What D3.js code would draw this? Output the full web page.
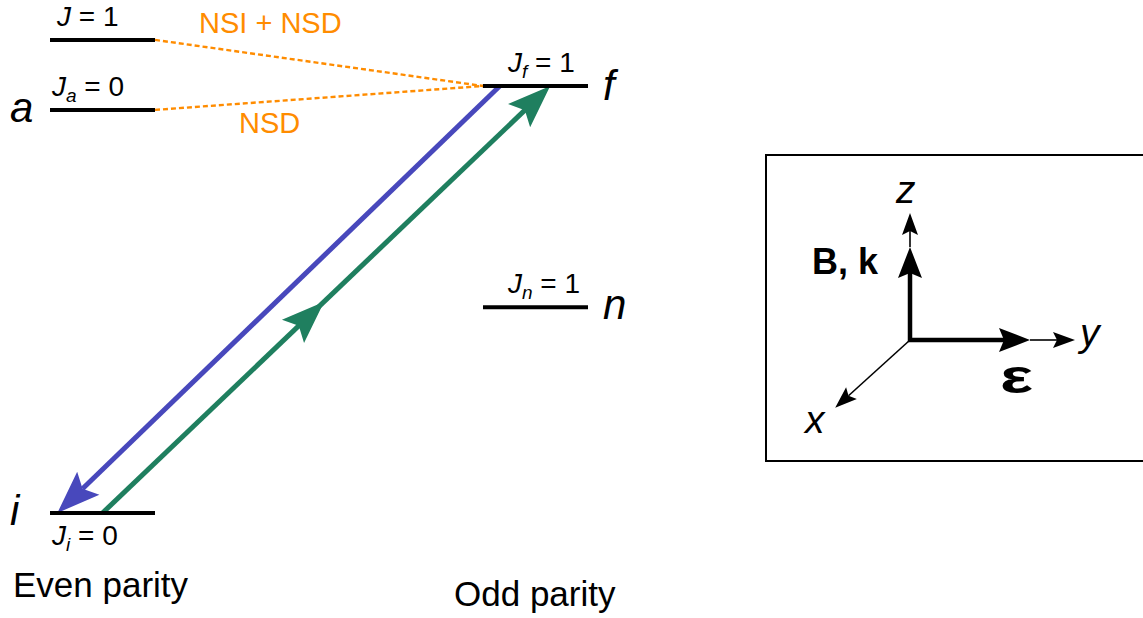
<!DOCTYPE html>
<html>
<head>
<meta charset="utf-8">
<script src="https://cdn.jsdelivr.net/npm/d3@7"></script>
<style>
  html, body { margin: 0; padding: 0; background: #fff; }
  svg { display: block; font-family: "Liberation Sans", Arial, sans-serif; }
</style>
</head>
<body>
<svg id="chart" width="1143" height="618"></svg>
<script>
// ---- Level scheme data ----
const levelIds      = ["J1", "a", "f", "n", "i"];
const levelParity   = ["even", "even", "odd", "odd", "even"];
const levelEnergy   = [11.08, 9.44, 10.0, 4.82, 0.0];   // arbitrary energy units
const levelSymbol   = ["", "a", "f", "n", "i"];
const levelSub      = ["", "a", "f", "n", "i"];
const levelJ        = ["1", "0", "1", "1", "0"];

const parityColumns = ["even", "odd"];
const parityLabels  = ["Even parity", "Odd parity"];

// laser transitions (excitation i -> f, stimulated emission f -> i)
const transFrom     = ["f", "i"];
const transTo       = ["i", "f"];
const transName     = ["emission", "excitation"];

// parity-violating admixtures into f
const mixFrom       = ["J1", "a"];
const mixTo         = ["f", "f"];
const mixLabels     = ["NSI + NSD", "NSD"];

// field geometry in the inset
const axisNames     = ["x", "y", "z"];
const fieldLabels   = ["B, k", "ε"];
const fieldAxis     = ["z", "y"];

// ---- layout ----
const svg = d3.select("#chart");
const x = d3.scaleBand().domain(parityColumns).range([50, 588]).paddingInner(0.7575).paddingOuter(0);
const y = d3.scaleLinear().domain([0, 10]).range([513, 86]);

const lvl = {};
levelIds.forEach((id, k) => {
  lvl[id] = { id, parity: levelParity[k], E: levelEnergy[k], sym: levelSymbol[k], sub: levelSub[k], J: levelJ[k] };
});
const x0 = d => x(d.parity);
const x1 = d => x(d.parity) + x.bandwidth();
const yy = d => y(d.E);

const orange = "#ff8c00";
const blue = "#4848bc";
const green = "#1f7f5f";

// stealth arrowhead polygon
function head(tip, dir, len, hw, notch) {
  const px = -dir[1], py = dir[0];
  const bx = tip[0] - dir[0] * len, by = tip[1] - dir[1] * len;
  const nx = tip[0] - dir[0] * (len - notch), ny = tip[1] - dir[1] * (len - notch);
  return [[tip[0], tip[1]], [bx + px * hw, by + py * hw], [nx, ny], [bx - px * hw, by - py * hw]];
}
function unit(a, b) {
  const dx = b[0] - a[0], dy = b[1] - a[1], L = Math.hypot(dx, dy);
  return [dx / L, dy / L];
}

// ---- coupling (dashed orange) ----
const gMix = svg.append("g");
mixFrom.forEach((fromId, k) => {
  const a = lvl[fromId], b = lvl[mixTo[k]];
  gMix.append("line")
    .attr("x1", x1(a)).attr("y1", yy(a))
    .attr("x2", x0(b)).attr("y2", yy(b))
    .attr("stroke", orange).attr("stroke-width", 2.4)
    .attr("stroke-dasharray", "5,3");
});
gMix.append("text").attr("x", 199).attr("y", 33)
  .attr("fill", orange).attr("font-size", 29).text(mixLabels[0]);
gMix.append("text").attr("x", 239).attr("y", 133)
  .attr("fill", orange).attr("font-size", 29).text(mixLabels[1]);

// ---- transitions ----
const attach = { emission: [0.16, 0.07], excitation: [0.5, 0.64] };
const colors = { emission: blue, excitation: green };
const gTr = svg.append("g");
transFrom.forEach((fromId, k) => {
  const a = lvl[fromId], b = lvl[transTo[k]], nm = transName[k];
  const p0 = [x0(a) + attach[nm][0] * x.bandwidth(), yy(a)];
  const p1 = [x0(b) + attach[nm][1] * x.bandwidth(), yy(b)];
  const d = unit(p0, p1);
  const L = 43, hw = 16, notch = 8;
  const endBase = [p1[0] - d[0] * (L - notch), p1[1] - d[1] * (L - notch)];
  gTr.append("line")
    .attr("x1", p0[0]).attr("y1", p0[1])
    .attr("x2", endBase[0]).attr("y2", endBase[1])
    .attr("stroke", colors[nm]).attr("stroke-width", 5);
  gTr.append("polygon").attr("points", head(p1, d, L, hw, notch).join(" "))
    .attr("fill", colors[nm]);
  if (nm === "excitation") {
    const t = 0.495;
    const mid = [p0[0] + (p1[0] - p0[0]) * t, p0[1] + (p1[1] - p0[1]) * t];
    gTr.append("polygon").attr("points", head(mid, d, L, hw, notch).join(" "))
      .attr("fill", colors[nm]);
  }
});

// ---- levels ----
const gLv = svg.append("g");
gLv.selectAll("line").data(Object.values(lvl)).join("line")
  .attr("x1", x0).attr("x2", x1).attr("y1", yy).attr("y2", yy)
  .attr("stroke", "#000").attr("stroke-width", 4);

// J labels and level symbols
Object.values(lvl).forEach(d => {
  const below = d.id === "i";
  const tx = x0(d) + (d.parity === "odd" ? 25 : (d.sub ? 2 : 7));
  const ty = below ? yy(d) + 32 : yy(d) - 14;
  const t = gLv.append("text").attr("x", tx).attr("y", ty).attr("font-size", 28);
  t.append("tspan").attr("font-style", "italic").text("J");
  if (d.sub) {
    t.append("tspan").attr("font-style", "italic").attr("font-size", 19)
      .attr("dy", 6).text(d.sub);
    t.append("tspan").attr("dy", -6).text(" = " + d.J);
  } else {
    t.append("tspan").text(" = " + d.J);
  }
  if (d.sym) {
    const sx = d.parity === "odd" ? x1(d) + 15 : 10;
    const sy = yy(d) + (d.id === "f" ? 14 : 12);
    gLv.append("text").attr("x", sx).attr("y", sy)
      .attr("font-size", 42).attr("font-style", "italic").text(d.sym);
  }
});

// parity column captions
const capY = { even: 597, odd: 606 };
const capX = { even: 13, odd: 454 };
parityColumns.forEach((c, k) => {
  svg.append("text").attr("x", capX[c]).attr("y", capY[c])
    .attr("font-size", 35).text(parityLabels[k]);
});

// ---- inset: field geometry ----
const gIn = svg.append("g");
gIn.append("rect").attr("x", 766).attr("y", 155).attr("width", 420).attr("height", 306)
  .attr("fill", "none").attr("stroke", "#000").attr("stroke-width", 2);

const O = [910, 340];
const axisDir = { x: unit([0, 0], [-75, 68]), y: [1, 0], z: [0, -1] };
const axisLen = { x: 101, y: 165, z: 127 };
const fieldLen = { z: 93, y: 120 };

// thick field arrows
fieldAxis.forEach(ax => {
  const d = axisDir[ax];
  const tip = [O[0] + d[0] * fieldLen[ax], O[1] + d[1] * fieldLen[ax]];
  const L = 31, hw = 12, notch = 5;
  gIn.append("line").attr("x1", O[0] - (ax === "y" ? 2 : 0)).attr("y1", O[1] + (ax === "z" ? 2 : 0))
    .attr("x2", tip[0] - d[0] * (L - notch)).attr("y2", tip[1] - d[1] * (L - notch))
    .attr("stroke", "#000").attr("stroke-width", 4.5);
  gIn.append("polygon").attr("points", head(tip, d, L, hw, notch).join(" ")).attr("fill", "#000");
});

// thin coordinate axes
axisNames.forEach(ax => {
  const d = axisDir[ax];
  const start = fieldLen[ax] ? [O[0] + d[0] * fieldLen[ax], O[1] + d[1] * fieldLen[ax]] : O;
  const tip = [O[0] + d[0] * axisLen[ax], O[1] + d[1] * axisLen[ax]];
  const L = 22, hw = 8, notch = 4;
  gIn.append("line").attr("x1", start[0]).attr("y1", start[1])
    .attr("x2", tip[0] - d[0] * (L - notch)).attr("y2", tip[1] - d[1] * (L - notch))
    .attr("stroke", "#000").attr("stroke-width", 1.6);
  gIn.append("polygon").attr("points", head(tip, d, L, hw, notch).join(" ")).attr("fill", "#000");
});

const axisLabelPos = { x: [805, 433], y: [1080, 346], z: [896, 203] };
axisNames.forEach(ax => {
  gIn.append("text").attr("x", axisLabelPos[ax][0]).attr("y", axisLabelPos[ax][1])
    .attr("font-size", 39).attr("font-style", "italic").text(ax);
});
// B, k label
gIn.append("text").attr("x", 812).attr("y", 274)
  .attr("font-size", 36).attr("font-weight", "bold").text(fieldLabels[0]);
// polarisation label, widened bold epsilon
gIn.append("text").attr("transform", "translate(1000,393) scale(1.45,1)")
  .attr("font-size", 48).attr("font-weight", "bold").text(fieldLabels[1]);
</script>
</body>
</html>
